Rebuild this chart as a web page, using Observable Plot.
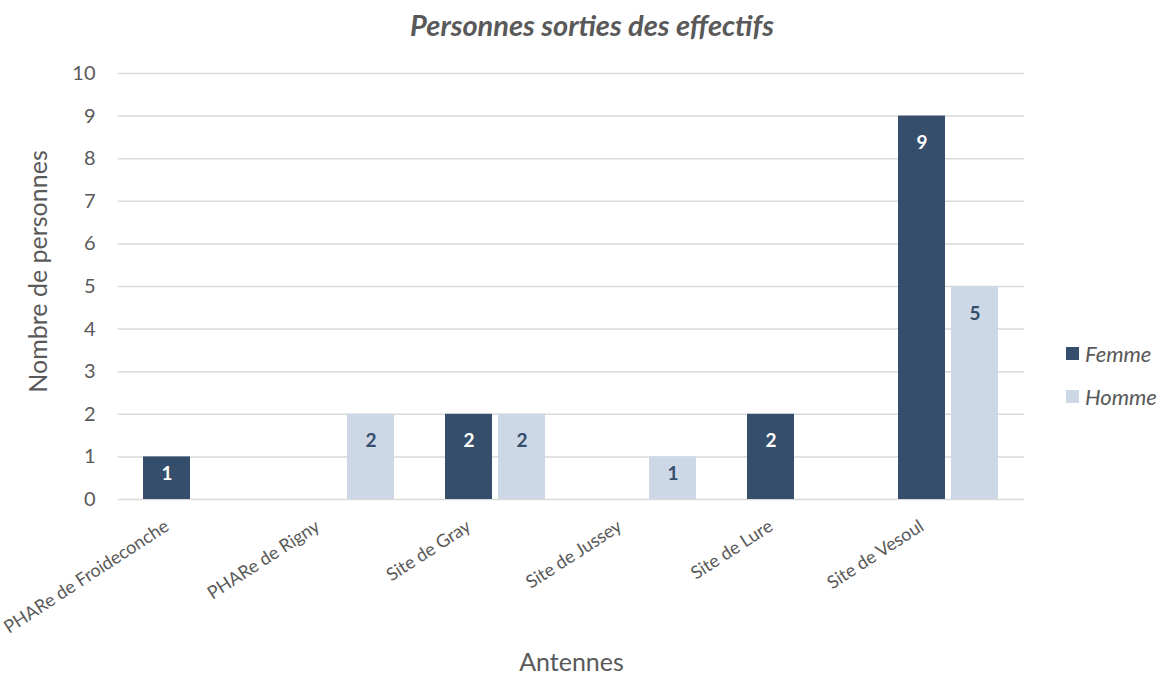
<!DOCTYPE html>
<html>
<head>
<meta charset="utf-8">
<script src="https://cdn.jsdelivr.net/npm/d3@7"></script>
<script src="https://cdn.jsdelivr.net/npm/@observablehq/plot@0.6"></script>
<style>
  html, body { margin: 0; padding: 0; background: #fff; }
  #wrap { position: relative; width: 1168px; height: 677px; font-family: Lato, sans-serif; }
  #title { position: absolute; top: 7px; left: 0; width: 1184px; text-align: center;
           font-size: 29px; font-weight: bold; font-style: italic; color: #595959; }
  #chart { position: absolute; top: 55px; left: 0; }
  .leg { position: absolute; left: 1066px; font-size: 22px; font-style: italic; color: #595959;
         display: flex; align-items: center; }
  .leg span.sw { display: inline-block; width: 13px; height: 13px; margin-right: 6px; }
</style>
</head>
<body>
<div id="wrap">
  <div id="title">Personnes sorties des effectifs</div>
  <div id="chart"></div>
  <div id="legend"></div>
</div>
<script>
const categories = ["PHARe de Froideconche", "PHARe de Rigny", "Site de Gray", "Site de Jussey", "Site de Lure", "Site de Vesoul"];
const series = ["Femme", "Homme"];
const femme = [1, 0, 2, 0, 2, 9];
const homme = [0, 2, 2, 1, 0, 5];
const yTicks = [0, 1, 2, 3, 4, 5, 6, 7, 8, 9, 10];
const colors = ["#344E6C", "#CDD8E7"];
const labelColors = ["#FFFFFF", "#344E6C"];

const data = [];
categories.forEach((c, i) => {
  data.push({cat: c, sex: "Femme", v: femme[i]});
  data.push({cat: c, sex: "Homme", v: homme[i]});
});
const nonzero = data.filter(d => d.v > 0);

const chart = Plot.plot({
  width: 1168,
  height: 622,
  marginLeft: 117,
  marginRight: 143,
  marginTop: 18,
  marginBottom: 178,
  style: {fontFamily: "Lato, sans-serif", color: "#595959", background: "transparent"},
  fx: {domain: categories, padding: 0, axis: null},
  x: {domain: series, paddingInner: 0.111, paddingOuter: 0.4556, axis: null},
  y: {domain: [0, 10], ticks: yTicks, tickSize: 0, tickPadding: 23,
      label: "Nombre de personnes", labelAnchor: "center", labelArrow: "none", labelOffset: 89},
  color: {domain: series, range: colors},
  marks: [
    Plot.gridY(yTicks, {stroke: "#D9D9D9", strokeOpacity: 1, strokeWidth: 1.5}),
    Plot.axisFx({anchor: "bottom", tickRotate: -33, tickSize: 0, tickPadding: 10, dx: -27, dy: 15,
      fontSize: 18, label: "Antennes", labelAnchor: "center", labelArrow: "none", labelOffset: 171}),
    Plot.barY(nonzero, {fx: "cat", x: "sex", y: "v", fill: "sex"}),
    Plot.text(nonzero.filter(d => d.v >= 2), {fx: "cat", x: "sex", y: "v", text: d => String(d.v), dy: 27,
      fill: d => labelColors[series.indexOf(d.sex)], fontWeight: "bold", fontSize: 19}),
    Plot.text(nonzero.filter(d => d.v < 2), {fx: "cat", x: "sex", y: "v", text: d => String(d.v), dy: 17,
      fill: d => labelColors[series.indexOf(d.sex)], fontWeight: "bold", fontSize: 19})
  ]
});
chart.querySelectorAll("g[aria-label='y-axis tick label']").forEach(g => {
  g.setAttribute("font-size", "20");
});
chart.querySelectorAll("g[aria-label='y-axis label'], g[aria-label='fx-axis label']").forEach(g => {
  g.setAttribute("font-size", "25");
});
chart.querySelectorAll("g[aria-label='y-axis label']").forEach(g => {
  g.setAttribute("transform", "translate(0,-15) " + (g.getAttribute("transform") || ""));
});
document.getElementById("chart").appendChild(chart);

const legend = document.getElementById("legend");
series.forEach((s, i) => {
  const el = document.createElement("div");
  el.className = "leg";
  el.style.top = (i === 0 ? 340 : 383) + "px";
  el.innerHTML = `<span class="sw" style="background:${colors[i]}"></span>${s}`;
  legend.appendChild(el);
});
</script>
</body>
</html>
